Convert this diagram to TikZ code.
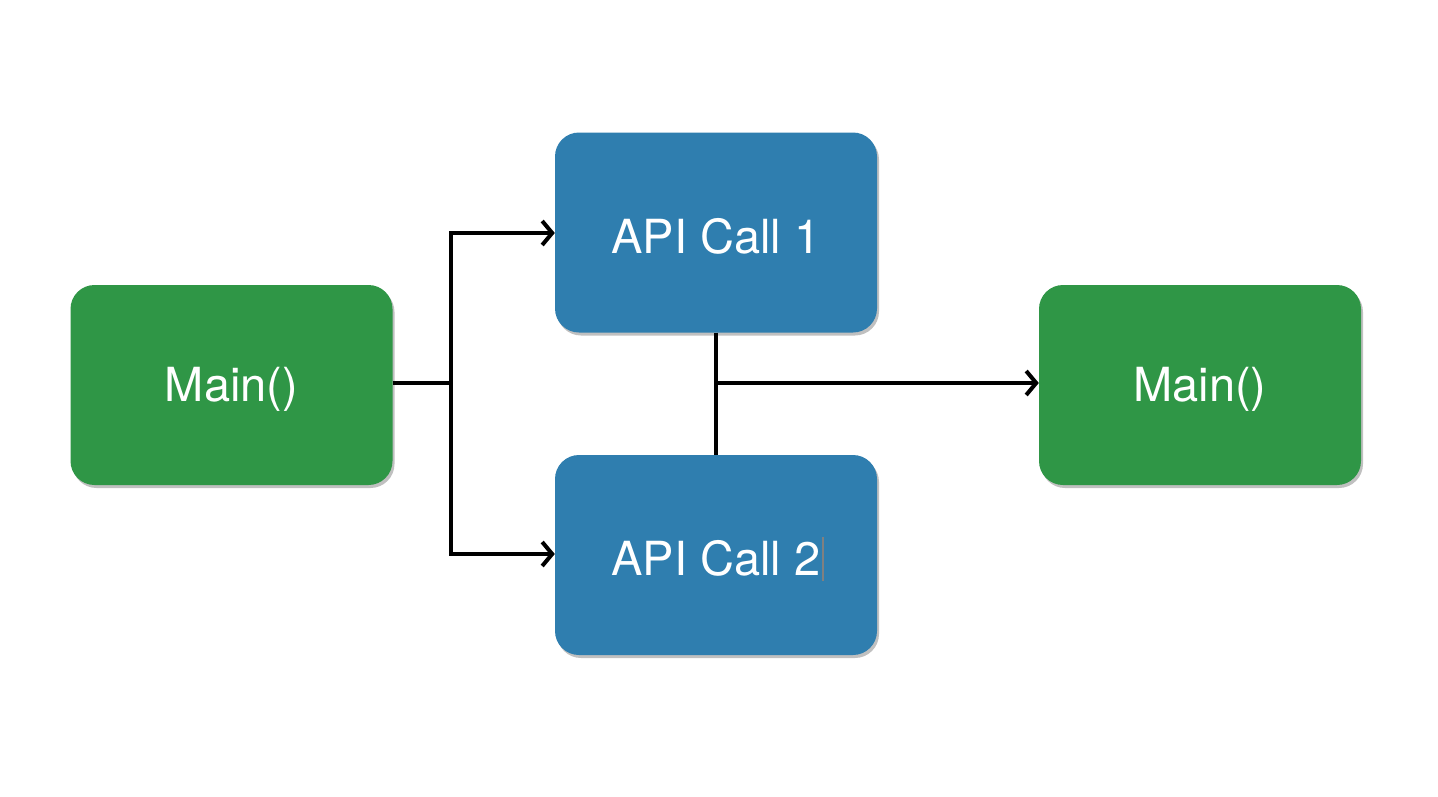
\documentclass[tikz,border=0pt]{standalone}
\usepackage{fontspec}
\setmainfont{TeX Gyre Heros}
\usetikzlibrary{arrows.meta,shadows}
\definecolor{boxgreen}{HTML}{2F9646}
\definecolor{boxblue}{HTML}{2F7EAF}
\begin{document}
\begin{tikzpicture}[x=1pt,y=-1pt,
  box/.style={rounded corners=24pt, minimum width=322pt, minimum height=200pt,
    text=white, inner sep=0pt,
    drop shadow={opacity=0.35, shadow xshift=2pt, shadow yshift=-3pt, fill=black!70}},
  boxtext/.style={font=\fontsize{47}{52}\selectfont, text=white, yshift=-4pt},
  mainbox/.style={box, fill=boxgreen},
  apibox/.style={box, fill=boxblue},
  conn/.style={line width=4pt, black},
  arr/.style={conn, -{Straight Barb[length=10pt,width=24pt,line width=4pt]}}]
\useasboundingbox (0,0) rectangle (1438,796);
\fill[white] (0,0) rectangle (1438,796);
\node[mainbox] (m1) at (231.5,385) {};
\node[apibox] (a1) at (716,232.5) {};
\node[apibox] (a2) at (716,555) {};
\node[mainbox] (m2) at (1200,385) {};
\node[boxtext] (t1) at (m1) {Main()};
\node[boxtext] (t2) at (a1) {API Call 1};
\node[boxtext] (t3) at (a2) {API Call 2\makebox[0pt][l]{\hspace{2pt}\textcolor{gray}{\rule[-6pt]{1.5pt}{44pt}}}};
\node[boxtext] (t4) at (m2) {Main()};
\coordinate (split) at (451,383);
\coordinate (join) at (716,383);
\draw[conn] (m1.east |- split) -- (split);
\draw[arr] (split) |- (a1.west |- 0,233);
\draw[arr] (split) |- (a2.west |- 0,554);
\draw[conn] (a1.south) -- (a2.north);
\draw[arr] (join) -- (m2.west |- join);
\end{tikzpicture}
\end{document}
